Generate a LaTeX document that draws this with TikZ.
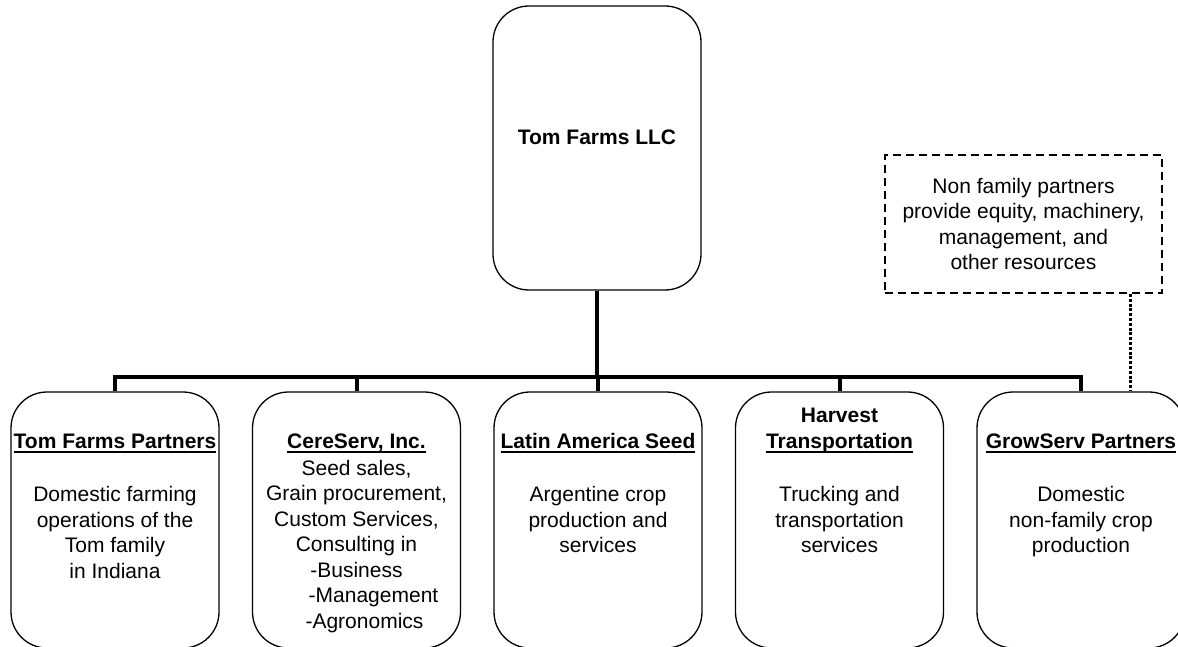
\documentclass[tikz,border=0pt]{standalone}
\usepackage{fontspec}
\setmainfont{Liberation Sans}
\usetikzlibrary{positioning}

\newsavebox{\ulsave}
\newcommand{\ulined}[1]{\sbox{\ulsave}{#1}\rlap{\vrule width\wd\ulsave height -3pt depth 5pt}\usebox{\ulsave}}

\begin{document}
\begin{tikzpicture}[x=1pt, y=-1pt, on grid, node distance=241.5pt,
	unit/.style={draw, line width=1.3pt, rounded corners=36pt, minimum width=208pt, minimum height=256pt, inner sep=0pt},
	head/.style={font=\fontsize{21}{25.5}\selectfont\bfseries, align=center, inner sep=0pt, anchor=south},
	body/.style={font=\fontsize{21}{25.5}\selectfont, align=center, inner sep=0pt, anchor=north},
	note/.style={draw, line width=2pt, dash pattern=on 8pt off 5pt, minimum width=277pt, minimum height=138pt, inner sep=0pt, align=center, font=\fontsize{21}{25.5}\selectfont},
	link/.style={line width=4pt},
	tie/.style={line width=3pt, dash pattern=on 3pt off 1.8pt}]
	\useasboundingbox (0,0) rectangle (1178,647);
	
	\node[unit, minimum height=284pt] (llc) at (597,148) {};
	\node[head, anchor=center] (llctxt) at (597,137) {Tom Farms LLC};
	
	\node[unit] (tfp) at (115,520) {};
	\node[unit, right = of tfp] (cere) {};
	\node[unit, right = of cere] (las) {};
	\node[unit, right = of las] (hvt) {};
	\node[unit, right = of hvt] (grow) {};
	
	\node[head] (tfphead) at ([yshift=-62pt]tfp.north) {\ulined{Tom Farms Partners}};
	\node[head] (cerehead) at ([yshift=-62pt]cere.north) {\ulined{CereServ, Inc.}};
	\node[head] (lashead) at ([yshift=-62pt]las.north) {\ulined{Latin America Seed}};
	\node[head] (hvthead) at ([yshift=-62pt]hvt.north) {Harvest\\\ulined{Transportation}};
	\node[head] (growhead) at ([yshift=-62pt]grow.north) {\ulined{GrowServ Partners}};
	
	\node[body] (tfpbody) at ([yshift=-95pt]tfp.north) {Domestic farming\\operations of the\\Tom family\\in Indiana};
	\node[body] (cerebody) at ([yshift=-68.5pt]cere.north) {Seed sales,\\Grain procurement,\\Custom Services,\\Consulting in\\-Business\\\hspace*{34pt}-Management\\\hspace*{16pt}-Agronomics};
	\node[body] (lasbody) at ([yshift=-95pt]las.north) {Argentine crop\\production and\\services};
	\node[body] (hvtbody) at ([yshift=-95pt]hvt.north) {Trucking and\\transportation\\services};
	\node[body] (growbody) at ([yshift=-95pt]grow.north) {Domestic\\non-family crop\\production};
	
	\node[note] (partners) at (1023.5,224) {Non family partners\\provide equity, machinery,\\management, and\\other resources};
	
	\coordinate (bus) at (597,377);
	\coordinate (tiex) at (1130,0);
	\draw[link] (llc) -- (bus);
	\draw[link] (tfp) |- (bus) -| (grow);
	\foreach \n in {cere, las, hvt}
		\draw[link] (\n) -- (\n |- bus);
	\draw[tie] (partners.south -| tiex) -- (grow.north -| tiex);
\end{tikzpicture}
\end{document}
